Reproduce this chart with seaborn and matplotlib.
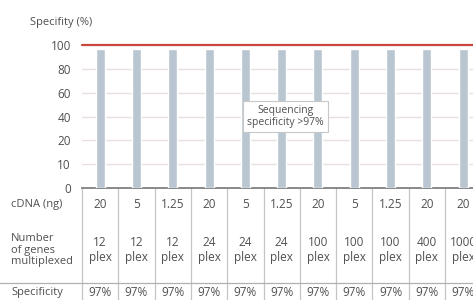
import numpy as np
import pandas as pd
import seaborn as sns
import matplotlib.pyplot as plt
from matplotlib.transforms import blended_transform_factory

# data
cdna_ng = ['20', '5', '1.25', '20', '5', '1.25', '20', '5', '1.25', '20', '20']
genes_plex = ['12', '12', '12', '24', '24', '24', '100', '100', '100', '400', '1000']
specificity = [97, 97, 97, 97, 97, 97, 97, 97, 97, 97, 97]
y_ticks = [0, 10, 20, 40, 60, 80, 100]

sns.set_style('white')
plt.rcParams['font.family'] = ['Open Sans', 'DejaVu Sans']

TXT = '#505050'
W, H = 473, 300

df = pd.DataFrame({'sample': [str(i) for i in range(len(specificity))],
                   'spec': specificity})

fig = plt.figure(figsize=(W / 100, H / 100), dpi=100)
ax_left, ax_bottom_px, ax_top_px = 82, 188, 45
col_w = 36.3
ax = fig.add_axes([ax_left / W, (H - ax_bottom_px) / H,
                   len(specificity) * col_w / W, (ax_bottom_px - ax_top_px) / H])

# broken y scale: 0-10-20 then steps of 20
fwd_pts = ([0, 10, 20, 120], [0, 1, 2, 7])
ax.set_yscale('function', functions=(lambda v: np.interp(v, *fwd_pts),
                                     lambda v: np.interp(v, fwd_pts[1], fwd_pts[0])))

sns.barplot(data=df, x='sample', y='spec', color='#b9c6d1', saturation=1,
            width=0.25, ax=ax, zorder=3)

ax.set_ylim(0, 100)
ax.set_xlim(-0.5, len(specificity) - 0.5)
ax.set_yticks(y_ticks)
ax.set_yticklabels([str(t) for t in y_ticks], color=TXT, fontsize=8.5)
ax.tick_params(axis='y', length=0, pad=8)
ax.set_xticks([])
ax.set_xlabel('')
ax.set_ylabel('')
for t in [10, 20, 40, 60, 80]:
    ax.axhline(t, color='#eadfdf', lw=1, zorder=1)
ax.axhline(100, color='#c9473d', lw=1.6, zorder=4, clip_on=False)
for s in ['top', 'right', 'left']:
    ax.spines[s].set_visible(False)
ax.spines['bottom'].set_color('#808080')
ax.spines['bottom'].set_linewidth(1.3)

fig.text(30 / W, 1 - 23 / H, 'Specifity (%)', fontsize=8, color=TXT, va='center')

ax.text(5.1, 40, 'Sequencing\nspecificity >97%', ha='center', va='center',
        fontsize=7.5, color=TXT, linespacing=1.0, zorder=5,
        bbox=dict(boxstyle='square,pad=0.4', fc='white', ec='#c8c8c8', lw=0.8))

# table below the axis
tr = blended_transform_factory(ax.transData, ax.transAxes)


def ya(py):
    return (ax_bottom_px - py) / (ax_bottom_px - ax_top_px)


for k in range(len(specificity) + 1):
    ax.plot([k - 0.5, k - 0.5], [0, ya(300)], color='#c4c4c4', lw=0.9,
            transform=tr, clip_on=False)
fig.add_artist(plt.Line2D([0, 1], [1 - 283 / H, 1 - 283 / H], color='#b0b0b0', lw=0.9))

for i in range(len(specificity)):
    ax.text(i, ya(205), cdna_ng[i], transform=tr, ha='center', va='center',
            fontsize=8.5, color=TXT)
    ax.text(i, ya(250), genes_plex[i] + '\nplex', transform=tr, ha='center',
            va='center', fontsize=8.5, color=TXT, linespacing=1.1)
    ax.text(i, ya(293), f'{specificity[i]}%', transform=tr, ha='center',
            va='center', fontsize=8.5, color=TXT)

fig.text(11 / W, 1 - 205 / H, 'cDNA (ng)', fontsize=8, color=TXT, va='center')
fig.text(11 / W, 1 - 250 / H, 'Number\nof genes\nmultiplexed', fontsize=8,
         color=TXT, va='center', linespacing=1.1)
fig.text(11 / W, 1 - 293 / H, 'Specificity', fontsize=8, color=TXT, va='center')

fig.savefig('out.png', dpi=100)
